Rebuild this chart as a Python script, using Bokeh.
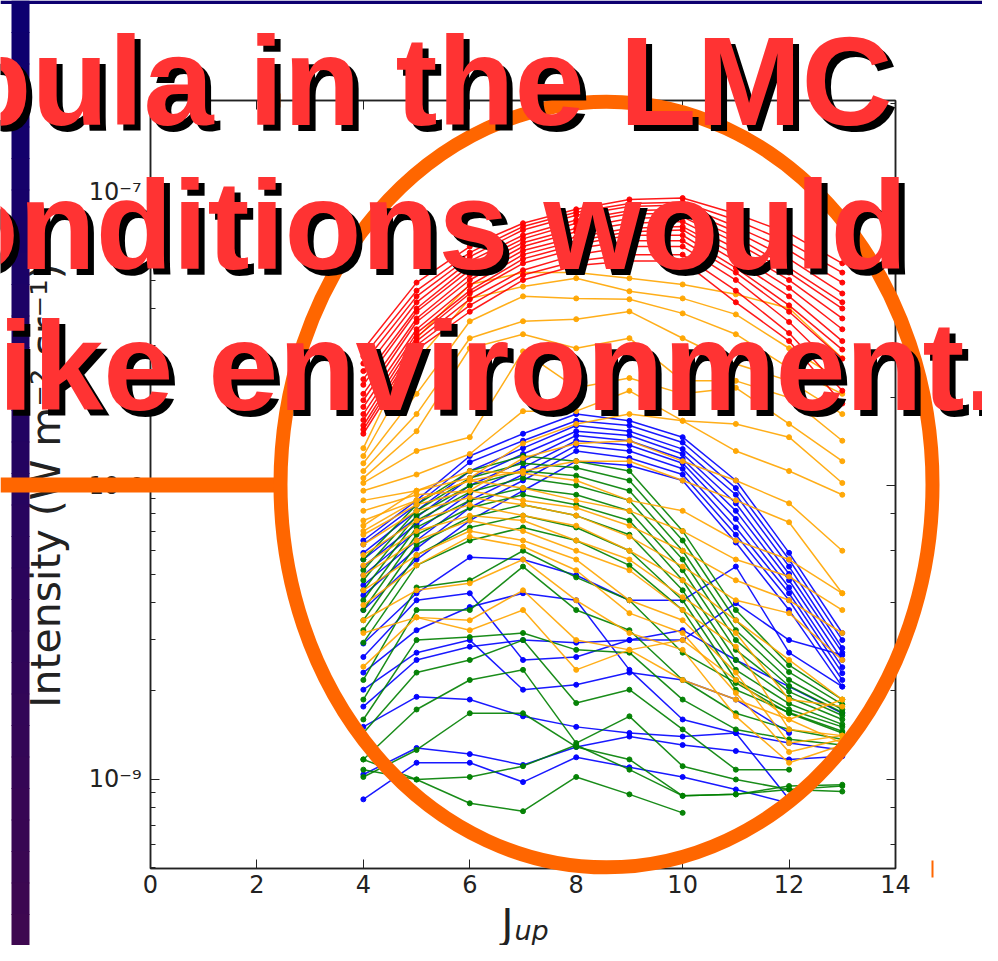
import numpy as np
from bokeh.plotting import figure
from bokeh.layouts import column, row
from bokeh.models import (Label, LinearAxis, LogAxis, FixedTicker, LogTicker,
                          CustomJSTickFormatter, Range1d)
from bokeh.core.properties import value
from bokeh.embed import file_html
from bokeh.resources import INLINE

# ---------------- data (intensities in units of 1e-9 W m^-2 sr^-1) ----------------
UNIT = 1e-9
J_up = [4, 5, 6, 7, 8, 9, 10, 11, 12, 13]

red_lines = [
    [29.0, 49, 65, 78, 87, 94, 95, 84, 72, 57],
    [27.5, 46, 62, 76, 85, 91, 92, 80, 67, 53],
    [26.0, 44, 60, 74, 83, 89, 90, 76, 63, 49],
    [24.5, 42, 58, 71, 80, 86, 87, 73, 59, 45],
    [23.0, 40, 56, 69, 78, 84, 84, 70, 55, 42],
    [22.0, 39, 54, 67, 75, 81, 82, 67, 53, 40],
    [20.5, 37, 52, 65, 73, 78, 79, 64, 50, 37],
    [19.5, 36, 50, 63, 70, 75, 76, 61, 47, 34],
    [18.5, 34, 48, 61, 68, 73, 74, 58, 44, 31],
    [17.5, 33, 46, 59, 66, 71, 71, 55, 41, 29],
    [16.7, 32, 45, 57, 64, 68, 68, 53, 39, 27],
    [16.0, 31, 43, 54, 61, 65, 65, 50, 36, 24],
    [15.5, 30, 41, 52, 58, 61, 61, 46, 33, 21],
    [15.0, 29, 39, 50, 56, 58, 58, 42, 31, 19],
]

orange_lines = [
    [13.4, 31.7, 48.3, 53.0, 53.0, 50.7, 48.3, 44.7, 40.1, 27.1],
    [12.6, 26.5, 43.3, 47.5, 50.7, 45.8, 43.3, 38.2, 29.3, 22.7],
    [11.9, 20.5, 36.2, 44.0, 43.3, 43.0, 38.5, 32.7, 25.1, 20.5],
    [11.2, 17.5, 31.7, 36.2, 36.8, 39.1, 31.7, 25.9, 22.7, 17.5],
    [10.6, 15.3, 29.3, 32.7, 29.3, 31.7, 22.7, 22.7, 19.9, 14.2],
    [10.2, 13.1, 14.6, 28.6, 21.5, 23.2, 20.5, 21.5, 16.2, 12.1],
    [9.6, 10.9, 12.8, 17.9, 17.9, 21.0, 16.6, 16.2, 14.6, 10.2],
    [8.9, 9.6, 10.6, 13.9, 16.2, 17.5, 16.6, 13.1, 11.2, 9.3],
    [8.2, 9.3, 9.6, 12.4, 13.9, 14.2, 12.1, 10.4, 8.7, 6.0],
    [7.6, 8.9, 10.4, 11.2, 12.1, 12.1, 10.4, 8.9, 7.5, 4.3],
    [7.3, 9.6, 11.2, 11.0, 10.4, 8.9, 8.2, 6.5, 5.6, 4.3],
    [7.0, 8.9, 10.4, 9.8, 8.9, 8.2, 7.0, 5.6, 4.9, 3.77],
    [6.8, 8.6, 9.6, 8.9, 8.4, 7.3, 6.0, 4.76, 4.07, 3.15],
    [6.3, 8.2, 9.1, 8.6, 7.9, 6.7, 5.3, 4.07, 3.68, 2.55],
    [5.8, 7.6, 8.6, 7.9, 7.3, 6.0, 4.76, 3.48, 2.55, 1.87],
    [5.35, 7.0, 7.9, 7.6, 6.5, 5.6, 4.17, 3.15, 1.87, 1.77],
    [4.95, 6.5, 7.6, 7.0, 6.0, 5.15, 3.77, 2.83, 1.48, 1.41],
    [4.4, 5.8, 7.0, 6.5, 5.6, 4.07, 3.48, 2.31, 1.33, 1.41],
    [3.92, 5.35, 6.7, 6.2, 5.15, 3.68, 3.15, 1.97, 1.24, 1.37],
    [3.48, 4.4, 4.65, 5.6, 4.07, 3.15, 2.76, 1.64, 1.14, 1.31],
    [3.15, 3.56, 3.48, 4.4, 2.98, 2.76, 2.18, 1.87, 1.60, 1.87],
    [2.42, 3.56, 3.22, 3.77, 2.36, 2.76, 2.98, 2.18, 1.60, 1.33],
]

blue_lines = [
    [6.5, 8.9, 12.6, 15.0, 17.5, 16.6, 14.6, 10.4, 5.9, 3.15],
    [6.3, 8.6, 12.0, 14.2, 16.6, 16.0, 14.0, 9.8, 5.6, 2.98],
    [5.9, 8.2, 11.2, 13.4, 16.0, 15.3, 13.3, 9.3, 5.3, 2.80],
    [5.6, 7.8, 10.6, 12.8, 15.3, 14.8, 12.8, 8.7, 5.0, 2.70],
    [5.3, 7.4, 10.0, 12.1, 14.8, 14.2, 12.3, 8.2, 4.76, 2.55],
    [4.95, 7.0, 9.4, 11.5, 14.2, 13.7, 11.9, 7.7, 4.5, 2.41],
    [4.58, 6.5, 8.9, 10.9, 13.7, 13.1, 11.4, 7.2, 4.3, 2.30],
    [4.23, 6.1, 8.4, 10.4, 13.1, 12.4, 10.9, 6.8, 4.07, 2.18],
    [3.77, 5.6, 7.6, 9.6, 12.1, 11.7, 10.4, 6.4, 3.77, 2.07],
    [0.856, 1.14, 1.14, 0.98, 1.19, 1.10, 1.02, 0.925, 0.83, None],
    [1.04, 1.28, 1.22, 1.12, 1.29, 1.40, 1.31, 1.25, 1.17, 1.20],
    [1.51, 1.91, 1.87, 1.64, 1.51, 1.44, 1.40, 1.44, 1.33, 1.26],
    [1.77, 2.55, 2.83, 2.98, 2.92, 2.98, 3.22, 2.55, 2.07, 1.68],
    [2.02, 2.70, 2.98, 2.02, 2.10, 2.31, 2.18, 1.87, 1.44, None],
    [2.31, 3.22, 3.86, 4.3, 4.07, 2.36, 1.60, 1.44, 0.856, None],
    [2.61, 4.07, 4.3, 2.55, 2.61, 2.98, 2.98, 3.98, 2.98, 2.65],
    [2.90, 4.3, 5.7, 5.6, 4.95, 4.07, 4.07, 5.3, 2.70, 2.07],
]

green_lines = [
    [5.6, 8.6, 11.2, 12.6, 12.1, 11.2, 7.0, 3.77, 2.45, 1.87],
    [5.15, 8.2, 10.6, 11.9, 11.5, 10.4, 6.5, 3.48, 2.32, 1.80],
    [4.76, 7.9, 10.0, 11.2, 10.8, 9.6, 6.0, 3.22, 2.18, 1.73],
    [4.4, 7.6, 9.5, 10.6, 10.0, 8.9, 5.6, 2.98, 2.08, 1.69],
    [4.07, 7.2, 8.9, 9.8, 9.3, 8.2, 5.15, 2.76, 1.99, 1.65],
    [3.77, 6.8, 8.4, 9.3, 8.6, 7.6, 4.76, 2.55, 1.90, 1.60],
    [3.48, 6.3, 7.8, 8.6, 7.9, 6.8, 4.4, 2.36, 1.81, 1.54],
    [3.22, 5.8, 7.2, 7.9, 7.2, 6.0, 4.07, 2.18, 1.73, 1.51],
    [2.92, 5.35, 6.5, 7.2, 6.5, 5.35, 3.77, 2.02, 1.69, 1.46],
    [2.18, 4.5, 4.76, 6.0, 4.87, 4.07, 2.70, 2.13, 1.68, 1.44],
    [1.87, 3.77, 3.77, 5.3, 3.77, 3.22, 2.18, 1.68, 1.48, 1.37],
    [1.60, 2.98, 3.05, 3.15, 2.76, 2.70, 1.87, 1.48, 1.37, 1.31],
    [1.44, 2.31, 2.55, 2.98, 1.82, 2.02, 1.48, 1.08, 1.08, None],
    [1.17, 1.73, 2.18, 2.36, 1.33, 1.64, 1.11, 1.00, 0.925, 0.95],
    [1.02, 1.26, 1.68, 1.68, 1.29, 1.17, 0.88, 0.89, 0.95, 0.96],
    [1.08, 1.00, 1.02, 1.11, 1.31, 1.08, 0.88, 0.89, 0.925, 0.91],
    [1.17, 1.00, 0.83, 0.78, 1.02, 0.89, 0.77, None, None, None],
]

x_ticks = [0, 2, 4, 6, 8, 10, 12, 14]
x_range = (0, 14)
y_range = (4.98e-10, 2.04e-7)
y_label = "Intensity (W m\u207b\u00b2 sr\u207b\u00b9)"
x_label_main = "J"
x_label_sub = "up"
slide_lines = ["Nebula in the LMC", "conditions would", "like environment."]

series = [
    (blue_lines, "#0000ff"),
    (green_lines, "#008000"),
    (orange_lines, "#ffa500"),
    (red_lines, "#ff0000"),
]

W, H = 982, 945
INK = "#222222"

# ---------------- chart figure ----------------
p = figure(width=W, height=H, output_backend="svg", toolbar_location=None,
           x_range=Range1d(*x_range), y_range=Range1d(*y_range), y_axis_type="log",
           min_border_left=150, min_border_right=87, min_border_top=100, min_border_bottom=77)
p.xgrid.visible = False
p.ygrid.visible = False
p.background_fill_color = "white"
p.border_fill_color = "white"
p.outline_line_color = INK
p.outline_line_width = 1.5

for lines, col in series:
    xs, ys, px, py = [], [], [], []
    for ln in lines:
        xx = [j for j, v in zip(J_up, ln) if v is not None]
        yy = [v * UNIT for v in ln if v is not None]
        xs.append(xx)
        ys.append(yy)
        px += xx
        py += yy
    p.multi_line(xs, ys, line_color=col, line_width=1.5, line_alpha=0.9)
    p.scatter(px, py, size=5, fill_color=col, line_color=col, alpha=0.95)

sup = ("const m={'-':'\u207b','0':'\u2070','1':'\u00b9','2':'\u00b2','3':'\u00b3','4':'\u2074',"
       "'5':'\u2075','6':'\u2076','7':'\u2077','8':'\u2078','9':'\u2079'};"
       "const e=Math.round(Math.log10(tick));"
       "return '10'+String(e).split('').map(c=>m[c]).join('');")

for ax in (p.xaxis[0], p.yaxis[0]):
    ax.major_tick_in = 9
    ax.major_tick_out = 0
    ax.minor_tick_in = 5
    ax.minor_tick_out = 0
    ax.axis_line_color = INK
    ax.axis_line_width = 1.5
    ax.major_tick_line_color = INK
    ax.minor_tick_line_color = INK
    ax.major_label_text_font = "DejaVu Sans"
    ax.major_label_text_font_size = "24px"
    ax.major_label_text_color = INK

p.xaxis.ticker = FixedTicker(ticks=x_ticks)
p.xaxis.minor_tick_in = 0
p.xaxis.major_label_standoff = 6
p.yaxis.formatter = CustomJSTickFormatter(code=sup)
p.yaxis.major_label_standoff = 9

blank = "return '';"
top_ax = LinearAxis(ticker=FixedTicker(ticks=x_ticks), formatter=CustomJSTickFormatter(code=blank),
                    major_tick_in=9, major_tick_out=0, minor_tick_in=0, minor_tick_out=0,
                    axis_line_color=INK, axis_line_width=1.5, major_tick_line_color=INK)
p.add_layout(top_ax, "above")
right_ax = LogAxis(ticker=LogTicker(), formatter=CustomJSTickFormatter(code=blank),
                   major_tick_in=9, major_tick_out=0, minor_tick_in=5, minor_tick_out=0,
                   axis_line_color=INK, axis_line_width=1.5,
                   major_tick_line_color=INK, minor_tick_line_color=INK)
p.add_layout(right_ax, "right")

# y-axis title in the left panel
p.add_layout(Label(x=45, y=485, x_units="canvas", y_units="canvas", text=y_label, angle=np.pi / 2,
                   text_align="center", text_baseline="alphabetic", text_font="DejaVu Sans",
                   text_font_size="41px", text_color=INK), "left")

# ---------------- slide overlay (transparent, full canvas, pixel coordinates) ----------------
q = figure(width=W, height=H, output_backend="svg", toolbar_location=None,
           x_range=Range1d(0, W), y_range=Range1d(H, 0),
           x_axis_location=None, y_axis_location=None, min_border=0)
q.xgrid.visible = False
q.ygrid.visible = False
q.background_fill_alpha = 0
q.border_fill_alpha = 0
q.outline_line_color = None

# x-axis title J_up
q.text(x=[501], y=[923], text=[x_label_main], text_font=value("DejaVu Sans"),
       text_font_size="40px", text_color=INK, text_align="left", text_baseline="alphabetic")
q.text(x=[514], y=[930], text=[x_label_sub], text_font=value("DejaVu Sans"),
       text_font_style="italic", text_font_size="27px", text_color=INK,
       text_align="left", text_baseline="alphabetic")

# dark slide frame: top strip and left band (vertical gradient)
N = 30
c0 = np.array([13, 0, 112])
c1 = np.array([62, 8, 80])
band_cols = []
for i in range(N):
    t = i / (N - 1)
    c = (c0 * (1 - t) + c1 * t).astype(int)
    band_cols.append("#%02x%02x%02x" % tuple(c))
edges = np.linspace(0, H, N + 1)
q.quad(left=[11] * N, right=[29] * N, top=list(edges[:-1]), bottom=list(edges[1:] + 1),
       fill_color=band_cols, line_color=None)
q.quad(left=[0], right=[W], top=[0], bottom=[3.5], fill_color="#0d0070", line_color=None)

# orange highlight
ORANGE = "#ff6600"
q.quad(left=[0], right=[282], top=[477], bottom=[492], fill_color=ORANGE, line_color=None)
q.ellipse(x=[606], y=[484], width=[652], height=[766], fill_alpha=0,
          line_color=ORANGE, line_width=14)
q.quad(left=[931, 278.5], right=[933, 280], top=[860, 93], bottom=[877, 107],
       fill_color=ORANGE, line_color=None)

# slide text with drop shadow
tx = [892, 907, 999]
ty = [81, 225, 366]
for dx, dy, col in [(6, 6, "black"), (0, 0, "#ff3333")]:
    q.text(x=[v + dx for v in tx], y=[v + dy for v in ty], text=slide_lines,
           text_font=value("Liberation Sans"), text_font_style="bold", text_font_size="126px",
           text_color=col, text_align="right", text_baseline="alphabetic")

chart_box = row(p, spacing=0)
overlay_box = row(q, spacing=0)
overlay_box.styles = {"margin-top": f"-{H}px"}
layout = column(chart_box, overlay_box, spacing=0)
open("out.html", "w").write(file_html(layout, INLINE))
